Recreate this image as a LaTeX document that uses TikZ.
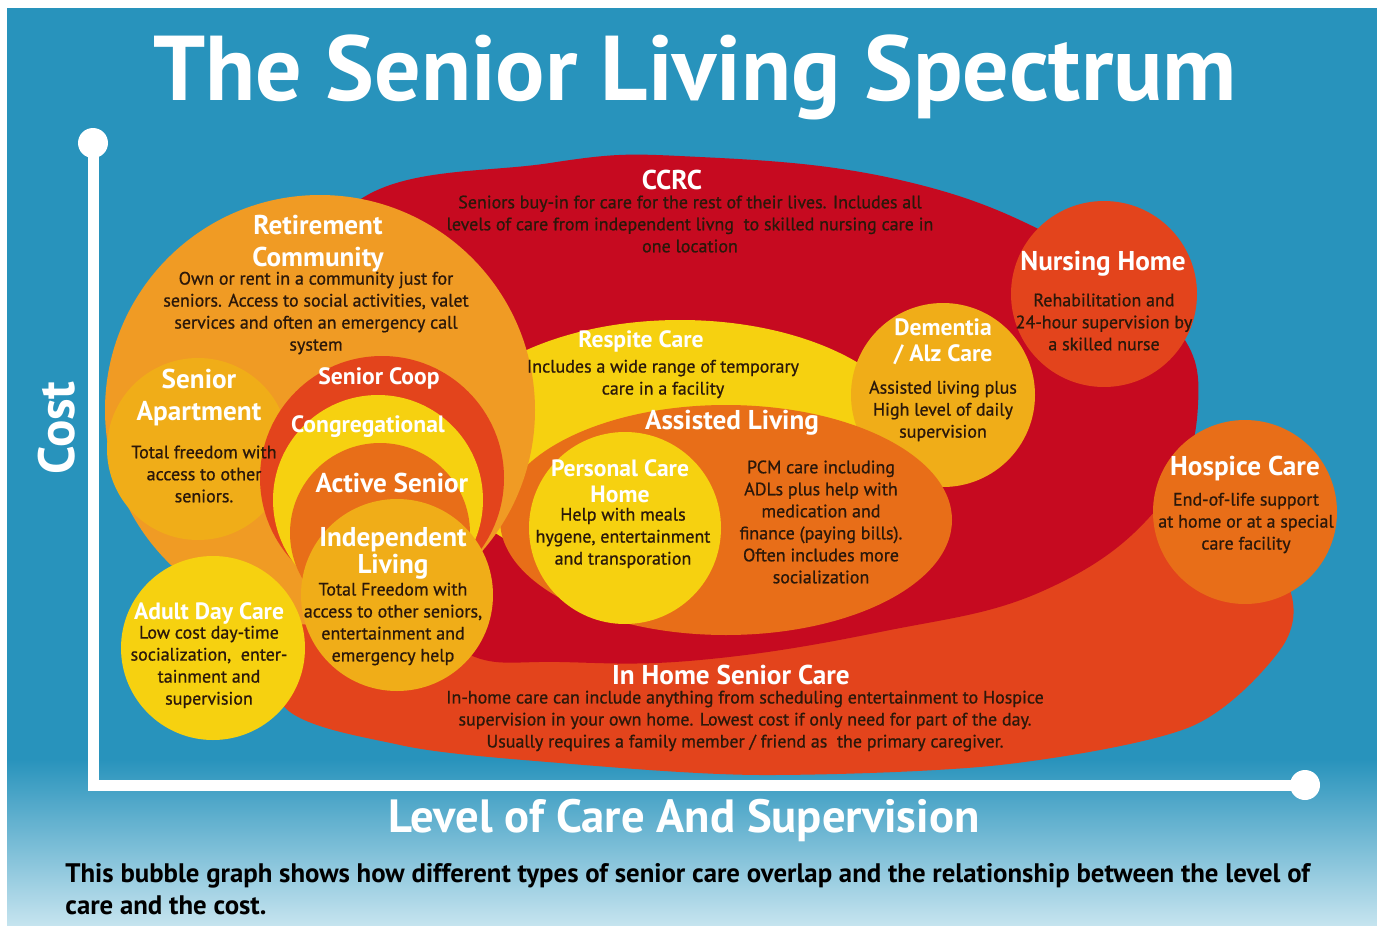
\documentclass[tikz,border=0pt]{standalone}
\usepackage{fontspec}
\setmainfont{PT Sans}
\newfontfamily\descFont[FakeBold=0.8]{PT Sans}
\usetikzlibrary{positioning}

\definecolor{skyBlue}{RGB}{40,147,188}
\definecolor{paleBlue}{RGB}{198,228,239}
\definecolor{ccrcRed}{RGB}{198,10,32}
\definecolor{flameRed}{RGB}{227,68,28}
\definecolor{deepOrange}{RGB}{232,110,24}
\definecolor{warmOrange}{RGB}{240,155,36}
\definecolor{amber}{RGB}{240,173,24}
\definecolor{sunYellow}{RGB}{246,209,16}
\definecolor{inkDark}{RGB}{43,24,10}

\tikzset{
    bubbleTitle/.style={text=white, font=\bfseries\fontsize{13.6}{#1}\selectfont, align=center, inner sep=0pt},
    bubbleTitle/.default=15,
    minorTitle/.style={bubbleTitle, font=\bfseries\fontsize{11.8}{#1}\selectfont},
    minorTitle/.default=15,
    bubbleText/.style={text=inkDark, font=\descFont\fontsize{9}{11}\selectfont, align=center, inner sep=0pt},
    axisLine/.style={white, line width=5.5pt}
}

\begin{document}
\begin{tikzpicture}[x=0.5pt, y=-0.5pt]
        \useasboundingbox (0,0) rectangle (1377,926);
        \fill[white] (0,0) rectangle (1377,926);
        \fill[skyBlue] (7,8) rectangle (1377,760);
        \fill[top color=skyBlue, bottom color=paleBlue] (7,759) rectangle (1377,926);
        \node[text=white, font=\bfseries\fontsize{46}{50}\selectfont, inner sep=0pt] (mainTitle) at (695,77) {The Senior Living Spectrum};
        % back bubbles
        \fill[flameRed] plot[smooth cycle] coordinates {(280,700) (400,745) (560,763) (760,775) (1000,765) (1190,727) (1280,650) (1290,590) (1230,500) (1000,470) (600,480) (330,560)};
        \fill[ccrcRed] plot[smooth cycle, tension=0.7] coordinates {(345,212) (550,163) (700,157) (900,180) (1060,240) (1170,320) (1198,405) (1160,505) (1045,590) (880,632) (700,660) (560,662) (470,655) (420,600) (320,400)};
        \fill[sunYellow] (680,450) ellipse [x radius=240, y radius=130];
        \fill[flameRed] (1104,294) circle (93);
        \fill[amber] (943,395) circle (92);
        \fill[deepOrange] (726,520) ellipse [x radius=226, y radius=115];
        \fill[sunYellow] (625,528) circle (96);
        \fill[deepOrange] (1245,512) circle (92);
        % independent side
        \fill[warmOrange] (320,410) circle (215);
        \fill[amber] (198,449) circle (91);
        \fill[flameRed] (382,478) circle (122);
        \fill[sunYellow] (378,500) circle (105);
        \fill[deepOrange] (380,533) circle (90);
        \fill[amber] (397,595) circle (96);
        \fill[sunYellow] (213,648) circle (92);
        % axes
        \draw[axisLine] (93,143) -- (93,785) -- (1305,785);
        \fill[white] (93,143) circle (15);
        \fill[white] (1305,785) circle (15);
        \node[rotate=90, text=white, font=\bfseries\fontsize{25.5}{30}\selectfont] (costLabel) at (57,428) {Cost};
        \node[text=white, font=\bfseries\fontsize{23.3}{28}\selectfont] (careLabel) at (684,821) {Level of Care And Supervision};
        % labels
        \node[bubbleTitle] (ccrcTitle) at (672,180) {CCRC};
        \node[bubbleText] (ccrcText) at (690,224) {Seniors buy-in for care for the rest of their lives. Includes all\\levels of care from independent livng\ \ to skilled nursing care in\\one location};
        \node[bubbleTitle=16] (retTitle) at (318,244) {Retirement\\Community};
        \node[bubbleText] (retText) at (316,313) {Own or rent in a community just for\\seniors. Access to social activities, valet\\services and often an emergency call\\system};
        \node[bubbleTitle=16] (aptTitle) at (199,398) {Senior\\Apartment};
        \node[bubbleText] (aptText) at (204,474) {Total freedom with\\access to other\\seniors.};
        \node[minorTitle] (coopTitle) at (379,378) {Senior Coop};
        \node[minorTitle] (congTitle) at (368,427) {Congregational};
        \node[bubbleTitle] (activeTitle) at (392,483) {Active Senior};
        \node[bubbleTitle=10.5] (indTitle) at (393,553) {Independent\\Living};
        \node[bubbleText] (indText) at (393,624) {Total Freedom with\\access to other seniors,\\entertainment and\\emergency help};
        \node[minorTitle] (adcTitle) at (209,613) {Adult Day Care};
        \node[bubbleText] (adcText) at (209,667) {Low cost day-time\\socialization,\ \ enter-\\tainment and\\supervision};
        \node[minorTitle] (respTitle) at (641,341) {Respite Care};
        \node[bubbleText] (respText) at (663,379) {Includes a wide range of temporary\\care in a facility};
        \node[bubbleTitle] (alTitle) at (732,423) {Assisted Living};
        \node[bubbleText] (alText) at (821,522) {PCM care including\\ADLs plus help with\\medication and\\finance (paying bills).\\Often includes more\\socialization};
        \node[minorTitle=13] (pchTitle) at (620,481) {Personal Care\\Home};
        \node[bubbleText] (pchText) at (623,538) {Help with meals\\hygene, entertainment\\and transporation};
        \node[minorTitle=13] (demTitle) at (943,342) {Dementia\\/ Alz Care};
        \node[bubbleText] (demText) at (943,411) {Assisted living plus\\High level of daily\\supervision};
        \node[bubbleTitle] (nhTitle) at (1103,264) {Nursing Home};
        \node[bubbleText] (nhText) at (1104,322) {Rehabilitation and\\24-hour supervision by\\a skilled nurse};
        \node[bubbleTitle] (hospTitle) at (1245,469) {Hospice Care};
        \node[bubbleText] (hospText) at (1246,523) {End-of-life support\\at home or at a special\\care facility};
        \node[bubbleTitle] (ihTitle) at (731,675) {In Home Senior Care};
        \node[bubbleText] (ihText) at (745,721) {In-home care can include anything from scheduling entertainment to Hospice\\supervision in your own home. Lowest cost if only need for part of the day.\\Usually requires a family member / friend as\ \ the primary caregiver.};
        \node[anchor=west, text=black, font=\bfseries\fontsize{13.4}{16}\selectfont, align=left, inner sep=0pt] (caption) at (65,889) {This bubble graph shows how different types of senior care overlap and the relationship between the level of\\care and the cost.};
\end{tikzpicture}
\end{document}
